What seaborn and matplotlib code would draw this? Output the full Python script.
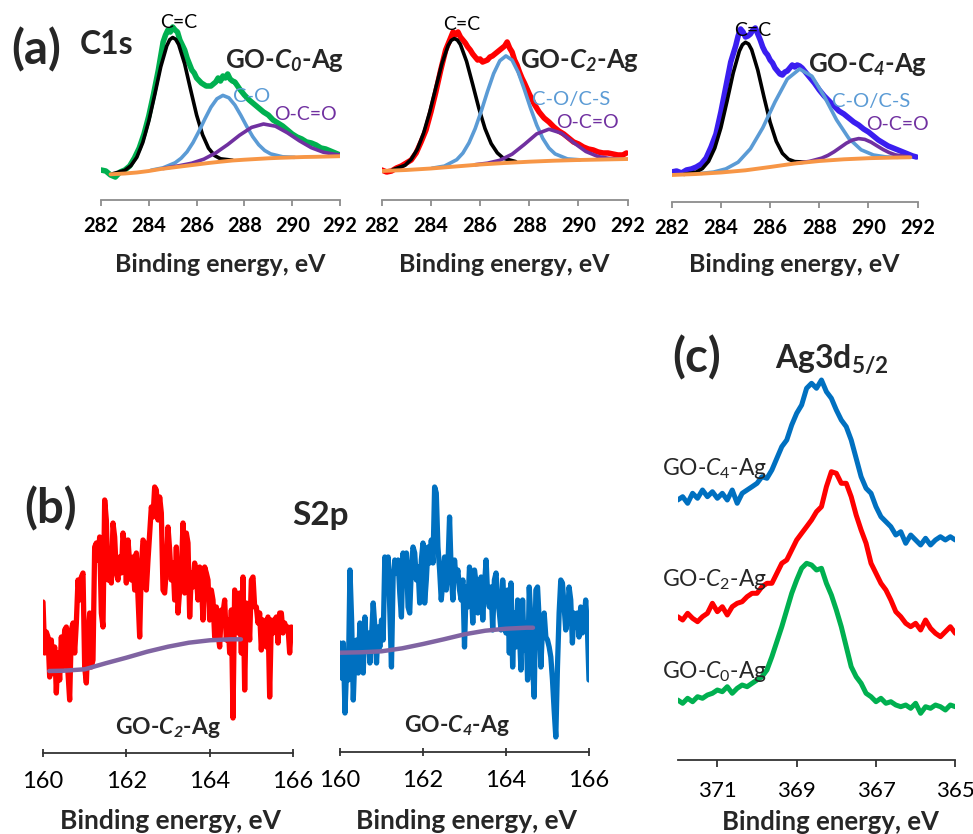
import numpy as np
import matplotlib
matplotlib.use("Agg")
import matplotlib.pyplot as plt
import seaborn as sns

# ---------------- DATA ----------------
# (a) C1s spectra and fitted components (intensity in arbitrary units)
c0_spec_x = [282.0, 282.2, 282.4, 282.6, 282.8, 283.0, 283.2, 283.4, 283.6, 283.8, 284.0, 284.2, 284.4, 284.6,
             284.7, 284.8, 284.9, 285.0, 285.1, 285.2, 285.3, 285.4, 285.5, 285.6, 285.7, 285.8, 285.9, 286.0,
             286.2, 286.4, 286.6, 286.8, 286.9, 287.0, 287.1, 287.2, 287.3, 287.4, 287.5, 287.6,
             287.8, 288.0, 288.2, 288.4, 288.6, 288.8, 289.0, 289.2, 289.4, 289.6, 289.8, 290.0, 290.2, 290.4,
             290.6, 290.8, 291.0, 291.2, 291.4, 291.6, 291.8, 292.0]
c0_spec_y = [30, 29, 25, 23, 28, 30, 34, 42, 52, 66, 84, 106, 130, 158,
             165, 170, 168, 173, 170, 168, 160, 155, 150, 142, 136, 130, 127, 122,
             117, 114, 114, 118, 122, 119, 124, 122, 126, 121, 119, 118,
             111, 105, 100, 96, 92, 88, 85, 80, 77, 74, 70, 66, 63, 61, 58, 57, 55, 52, 51, 49, 47, 45]
c0_cc_x = [282.5, 283.0, 283.25, 283.5, 283.75, 284.0, 284.25, 284.5, 284.75, 284.875, 285.0, 285.125, 285.25,
           285.5, 285.75, 286.0, 286.25, 286.5, 286.75, 287.0, 287.5]
c0_cc_y = [26.3, 29.7, 34.3, 42.8, 57.6, 79, 105.5, 133.2, 154, 160.3, 162.5, 160.7, 155.5,
           136.2, 110.3, 85, 65.2, 51.8, 44.5, 41.2, 39.8]
c0_co_x = [284.1, 284.6, 285.1, 285.35, 285.6, 285.85, 286.1, 286.35, 286.6, 286.85, 287.1, 287.35, 287.6, 287.85,
           288.1, 288.35, 288.6, 288.85, 289.1, 289.6, 290.1]
c0_co_y = [29.8, 32.2, 37.2, 41.7, 48.2, 57.4, 68.8, 81.2, 92.8, 101.2, 104.6, 102.2, 95, 84.7,
           73.5, 63.3, 55.2, 49.5, 46.1, 43.2, 42.7]
c0_occ_x = [284.6, 285.3, 285.8, 286.3, 286.8, 287.3, 287.8, 288.3, 288.8, 289.3, 289.8, 290.3, 290.8, 291.3, 291.8, 292.0]
c0_occ_y = [31.5, 34.4, 36.8, 40.8, 47.1, 55.4, 64.8, 72.6, 76, 73.8, 67.2, 59.2, 52.3, 47.8, 45.6, 45.2]
c0_bg_x = [282.4, 283.0, 283.5, 284.0, 284.5, 285.0, 285.5, 286.0, 286.5, 287.0, 287.5, 288.0, 288.5, 289.0,
           289.5, 290.0, 290.5, 291.0, 291.5, 292.0]
c0_bg_y = [25.7, 26.5, 27.5, 29, 31, 32.5, 34, 35.5, 37, 38.3, 39.5, 40.3, 41, 41.7, 42.2, 42.6, 43, 43.2, 43.5, 43.8]

c2_spec_x = [282.0, 282.2, 282.4, 282.6, 282.8, 283.0, 283.2, 283.4, 283.6, 283.8, 284.0, 284.2, 284.4, 284.6, 284.8,
             284.9, 285.0, 285.1, 285.2, 285.3, 285.4, 285.5, 285.6, 285.7, 285.8, 285.9, 286.0, 286.1, 286.2,
             286.3, 286.4, 286.5, 286.6, 286.7, 286.8, 286.9, 287.0, 287.1, 287.2, 287.3, 287.4, 287.5, 287.6,
             287.7, 287.8, 288.0, 288.2, 288.4, 288.6, 288.8, 289.0, 289.2, 289.4, 289.6, 289.8, 290.0, 290.2,
             290.4, 290.6, 290.8, 291.0, 291.2, 291.4, 291.6, 291.8, 291.95]
c2_spec_y = [30, 28, 29, 32, 34, 37, 40, 47, 58, 70, 88, 108, 130, 150, 162,
             168, 165, 168, 163, 160, 157, 153, 150, 146, 143, 140, 141, 138, 139,
             140, 143, 144, 146, 148, 150, 152, 154, 158, 152, 148, 140, 135, 128,
             122, 117, 106, 96, 88, 82, 78, 73, 69, 66, 62, 58, 56, 53,
             51, 50, 48, 47, 47, 46, 45, 45, 47]
c2_cc_x = [282.45, 282.95, 283.2, 283.45, 283.7, 283.95, 284.2, 284.45, 284.7, 284.825, 284.95, 285.075, 285.2,
           285.45, 285.7, 285.95, 286.2, 286.45, 286.7, 286.95, 287.45]
c2_cc_y = [30.3, 34.7, 40.7, 50.8, 66.6, 87.7, 112.4, 136.5, 154.5, 159.6, 161.4, 160.0, 155.5,
           138.6, 115.5, 91.7, 71.4, 56.4, 47.1, 41.7, 38.4]
c2_co_x = [284.05, 284.55, 285.05, 285.3, 285.55, 285.8, 286.05, 286.3, 286.55, 286.8, 287.05, 287.3, 287.55,
           287.8, 288.05, 288.3, 288.55, 288.8, 289.05, 289.55, 290.05]
c2_co_y = [31.8, 33.9, 40.3, 46.9, 57.2, 71.4, 89.1, 108.5, 126.4, 139.2, 144.1, 139.9, 127.7,
           110.5, 91.9, 75, 61.5, 51.9, 46.1, 41.1, 40.2]
c2_occ_x = [285.8, 286.3, 286.8, 287.3, 287.8, 288.3, 288.8, 289.3, 289.8, 290.3, 290.8, 291.3, 291.8]
c2_occ_y = [35.3, 36.8, 39.7, 45.8, 55.6, 66.1, 70.8, 66.9, 57.4, 48.5, 43.4, 41.4, 41.1]
c2_bg_x = [282.0, 283.0, 284.0, 285.0, 286.0, 287.0, 288.0, 289.0, 290.0, 291.0, 292.0]
c2_bg_y = [29, 30, 31.5, 33.5, 35.5, 37, 38.3, 39.3, 40, 40.5, 41]

c4_spec_x = [282.0, 282.2, 282.4, 282.6, 282.8, 283.0, 283.2, 283.4, 283.6, 283.8, 284.0, 284.2, 284.4, 284.6,
             284.7, 284.8, 284.9, 285.0, 285.1, 285.2, 285.3, 285.4, 285.5, 285.6, 285.7, 285.8, 285.9, 286.0,
             286.1, 286.2, 286.3, 286.4, 286.5, 286.6, 286.7, 286.8, 286.9, 287.0, 287.1, 287.2, 287.3, 287.4,
             287.5, 287.6, 287.8, 288.0, 288.2, 288.4, 288.6, 288.8, 289.0, 289.2, 289.4, 289.6, 289.8, 290.0,
             290.2, 290.4, 290.6, 290.8, 291.0, 291.2, 291.4, 291.6, 291.8, 291.95]
c4_spec_y = [30, 31, 29, 32, 33, 35, 38, 44, 55, 68, 90, 115, 140, 156,
             166, 173, 170, 165, 166, 168, 172, 174, 168, 162, 155, 150, 147, 142,
             139, 134, 131, 128, 127, 130, 131, 134, 137, 135, 137, 136, 134, 131,
             128, 125, 119, 112, 106, 101, 96, 91, 88, 84, 80, 77, 73, 70,
             66, 62, 59, 56, 54, 52, 50, 48, 46, 45]
c4_cc_x = [282.5, 283.0, 283.25, 283.5, 283.75, 284.0, 284.25, 284.5, 284.75, 284.875, 285.0, 285.125, 285.25,
           285.5, 285.75, 286.0, 286.25, 286.5, 286.75, 287.0, 287.5]
c4_cc_y = [27.6, 29.9, 33.5, 40.7, 53.9, 74.3, 100.9, 129, 150.9, 157.3, 159.7, 158, 152.3,
           131.8, 105.1, 79.8, 60.7, 48.7, 42.7, 40.4, 39.8]
c4_co_x = [283.2, 283.7, 284.2, 284.7, 285.2, 285.7, 286.2, 286.7, 287.2, 287.7, 288.2, 288.7, 289.2, 289.7,
           290.2, 290.7, 291.2]
c4_co_y = [28.6, 29.9, 33.1, 39.8, 53.2, 74.1, 100.1, 123, 133, 125.8, 105.7, 82.2, 63.6, 52.2, 47, 45.1, 44.7]
c4_occ_x = [287.1, 287.6, 288.1, 288.35, 288.6, 288.85, 289.1, 289.35, 289.6, 289.85, 290.1, 290.35, 290.6,
            290.85, 291.1, 291.6]
c4_occ_y = [38.9, 40.6, 43.9, 46.6, 50.2, 54.5, 58.8, 62.0, 63.4, 62.6, 59.9, 56.1, 52.4, 49.3, 47.1, 45.3]
c4_bg_x = [282.0, 283.0, 284.0, 285.0, 286.0, 287.0, 288.0, 289.0, 290.0, 291.0, 291.7]
c4_bg_y = [27, 28, 29.5, 31.7, 35, 38.5, 41, 42.7, 43.8, 44.4, 44.7]

c1s_ticks = [282, 284, 286, 288, 290, 292]

# (b) S2p spectra, 160-166 eV, 0.04 eV steps
s2p_energy = np.linspace(160.0, 166.0, 151)
s2p_c2 = [151, 100, 121, 116, 76, 113, 80, 106, 60, 100,
          73, 116, 86, 123, 126, 80, 53, 123, 130, 100,
          130, 173, 153, 176, 180, 86, 70, 116, 140, 86,
          93, 206, 210, 193, 216, 140, 126, 253, 233, 173,
          190, 170, 230, 216, 180, 173, 196, 180, 220, 206,
          170, 213, 190, 173, 196, 163, 200, 156, 116, 186,
          213, 210, 163, 193, 220, 246, 236, 266, 263, 233,
          256, 240, 163, 160, 183, 226, 203, 173, 190, 153,
          206, 140, 163, 180, 230, 160, 220, 210, 136, 180,
          166, 190, 176, 153, 186, 173, 133, 186, 180, 173,
          133, 163, 153, 116, 146, 120, 106, 143, 140, 153,
          113, 133, 100, 143, 35, 163, 133, 120, 160, 100,
          176, 63, 150, 140, 113, 173, 176, 146, 146, 130,
          140, 103, 133, 123, 106, 136, 56, 133, 120, 133,
          136, 110, 140, 140, 120, 130, 123, 126, 100, 126,
          125]
s2p_c4 = [109, 74, 109, 39, 85, 72, 182, 132, 52, 99,
          112, 79, 129, 99, 79, 135, 102, 119, 89, 115,
          149, 125, 89, 125, 105, 132, 112, 195, 172, 195,
          142, 85, 175, 192, 179, 192, 159, 135, 199, 172,
          199, 145, 139, 185, 205, 199, 172, 185, 149, 192,
          209, 149, 172, 205, 189, 212, 189, 265, 259, 205,
          182, 152, 172, 195, 162, 185, 235, 179, 152, 192,
          172, 182, 162, 152, 172, 105, 165, 145, 185, 165,
          129, 182, 169, 139, 155, 175, 132, 165, 192, 155,
          145, 165, 122, 172, 179, 152, 139, 122, 172, 145,
          119, 162, 99, 169, 85, 139, 105, 152, 122, 82,
          152, 102, 129, 72, 165, 132, 85, 55, 162, 165,
          132, 85, 125, 139, 115, 112, 105, 95, 72, 42,
          15, 85, 139, 172, 169, 145, 122, 132, 165, 152,
          109, 139, 125, 139, 115, 145, 119, 129, 152, 125,
          72]
s2p_c2_bg_x = [160.15, 160.5, 161.0, 161.5, 162.0, 162.5, 163.0, 163.5, 164.0, 164.5, 164.75]
s2p_c2_bg_y = [82, 82.3, 83.7, 89.7, 95.3, 101.3, 106.3, 110.3, 112.7, 113.7, 113.7]
s2p_c4_bg_x = [160.0, 160.5, 161.0, 161.5, 162.0, 162.5, 163.0, 163.5, 164.0, 164.5, 164.65]
s2p_c4_bg_y = [99.3, 99.7, 100.7, 103.7, 108, 112.7, 117.7, 121.3, 123.3, 124.3, 124.3]
s2p_ticks = [160, 162, 164, 166]

# (c) Ag3d5/2 spectra, 372 -> 365 eV, 0.125 eV steps (vertically offset)
ag_energy = np.linspace(372.0, 365.0, 57)
ag_c4 = [260, 263.3, 256.7, 266.7, 261.7, 270, 263.3, 268.3, 261.7, 266.7,
         260, 270, 256.7, 266.7, 270, 273.3, 276.7, 283.3, 281.7, 290,
         301.7, 313.3, 320, 335, 346.7, 355, 371.7, 376.7, 371.7, 380,
         368.3, 361.7, 350, 340, 333.3, 320, 301.7, 283.3, 271.7, 266.7,
         253.3, 243.3, 238.3, 233.3, 225, 228.3, 216.7, 225, 220, 215,
         221.7, 215, 220, 223.3, 220, 223.3, 220]
ag_c2 = [143.3, 140, 146.7, 141.7, 138.3, 143.3, 146.7, 156.7, 148.3, 153.3,
         145, 153.3, 156.7, 158.3, 163.3, 166.7, 166.7, 173.3, 176.7, 176.7,
         186.7, 196.7, 200, 210, 220, 226.7, 233.3, 240, 248.3, 253.3,
         273.3, 288.3, 286.7, 276.7, 276.7, 263.3, 245, 230, 216.7, 196.7,
         186.7, 176.7, 170, 160, 148.3, 143.3, 136.7, 133.3, 136.7, 130,
         140, 131.7, 126.7, 123.3, 128.3, 133.3, 126.7]
ag_c0 = [60, 56.7, 61.7, 58.3, 63.3, 61.7, 65, 66.7, 70, 68.3,
         73.3, 66.7, 71.7, 75, 73.3, 76.7, 80, 83.3, 90, 103.3,
         118.3, 133.3, 150, 166.7, 180, 191.7, 196.7, 195, 190, 191.7,
         176.7, 165, 150, 133.3, 113.3, 93.3, 83.3, 76.7, 66.7, 63.3,
         58.3, 61.7, 56.7, 58.3, 55, 53.3, 55, 51.7, 56.7, 46.7,
         53.3, 51.7, 55, 53.3, 50, 55, 53.3]
ag_ticks = [371, 369, 367, 365]

# ---------------- STYLE ----------------
sns.set_theme(style="white")
plt.rcParams['font.family'] = ['Lato', 'DejaVu Sans']
plt.rcParams['mathtext.fontset'] = 'custom'
plt.rcParams['mathtext.rm'] = 'Lato'
plt.rcParams['mathtext.it'] = 'Lato:italic'
plt.rcParams['mathtext.bf'] = 'Lato:bold'
plt.rcParams['mathtext.bfit'] = 'Lato:italic:bold'

GREEN, RED, VIOLET, BLUE = '#00B050', '#FF0000', '#3A1EF0', '#0070C0'
LBLUE, PURPLE, ORANGE, BGPURPLE = '#5B9BD5', '#7030A0', '#F79646', '#8064A2'

W, H = 973, 834
fig = plt.figure(figsize=(W / 100, H / 100), dpi=100)


def rect(l, t, r, b):
    return [l / W, 1 - b / H, (r - l) / W, (b - t) / H]


def ftext(x, y, s, **kw):
    ha = kw.pop('ha', 'center')
    va = kw.pop('va', 'center')
    fig.text(x / W, 1 - y / H, s, ha=ha, va=va, **kw)


def line(ax, x, y, color, lw, z=2):
    sns.lineplot(x=list(x), y=list(y), ax=ax, color=color, linewidth=lw,
                 estimator=None, sort=False, zorder=z)


def style(ax, xlim, ylim, ticks, col, lw, tdir, tlen, lsize, lweight, pad):
    ax.set_xlim(*xlim)
    ax.set_ylim(*ylim)
    for s in ['left', 'right', 'top']:
        ax.spines[s].set_visible(False)
    ax.spines['bottom'].set_color(col)
    ax.spines['bottom'].set_linewidth(lw)
    ax.set_xticks(ticks)
    ax.set_xticklabels([str(t) for t in ticks], fontsize=lsize, fontweight=lweight)
    ax.tick_params(axis='x', bottom=True, direction=tdir, length=tlen, width=lw,
                   color=col, pad=pad, labelcolor='black')
    ax.set_yticks([])
    ax.set_xlabel('')
    ax.set_ylabel('')
    ax.patch.set_alpha(0)


# ---------------- PANEL (a) ----------------
a_sets = [
    (rect(101, 20, 340, 200), c0_spec_x, c0_spec_y, GREEN, c0_cc_x, c0_cc_y, c0_co_x, c0_co_y,
     c0_occ_x, c0_occ_y, c0_bg_x, c0_bg_y),
    (rect(381.7, 20, 627.7, 200), c2_spec_x, c2_spec_y, RED, c2_cc_x, c2_cc_y, c2_co_x, c2_co_y,
     c2_occ_x, c2_occ_y, c2_bg_x, c2_bg_y),
    (rect(671.7, 22, 917.7, 202), c4_spec_x, c4_spec_y, VIOLET, c4_cc_x, c4_cc_y, c4_co_x, c4_co_y,
     c4_occ_x, c4_occ_y, c4_bg_x, c4_bg_y),
]
for (r, sx, sy, sc, kx, ky, ox, oy, px, py, bx, by) in a_sets:
    ax = fig.add_axes(r)
    line(ax, sx, sy, sc, 4.0, 2)
    line(ax, kx, ky, 'black', 2.6, 3)
    line(ax, ox, oy, LBLUE, 2.6, 3)
    line(ax, px, py, PURPLE, 2.6, 3)
    line(ax, bx, by, ORANGE, 2.8, 4)
    style(ax, (282, 292), (0, 180), c1s_ticks, '#8C8C8C', 1.3, 'out', 4.5, 14.5, 'bold', 7)

ftext(36, 50, "(a)", fontsize=34, fontweight='bold')
ftext(107, 44, "C1s", fontsize=23, fontweight='bold')
for cx, cy in [(179, 22), (462, 24), (753, 31)]:
    ftext(cx, cy, "C=C", fontsize=14, color='black')
ftext(285, 60, r"GO-$\mathbfit{C}_{\mathbfit{0}}$-Ag", fontsize=18.5, fontweight='bold')
ftext(580, 60, r"GO-$\mathbfit{C}_{\mathbfit{2}}$-Ag", fontsize=18.5, fontweight='bold')
ftext(868, 64, r"GO-$\mathbfit{C}_{\mathbfit{4}}$-Ag", fontsize=18.5, fontweight='bold')
ftext(252, 97, "C-O", fontsize=14.5, color=LBLUE)
ftext(571, 100, "C-O/C-S", fontsize=14.5, color=LBLUE)
ftext(871, 102, "C-O/C-S", fontsize=14.5, color=LBLUE)
ftext(305, 115, "O-C=O", fontsize=14, color=PURPLE)
ftext(587, 122, "O-C=O", fontsize=14, color=PURPLE)
ftext(897, 125, "O-C=O", fontsize=14, color=PURPLE)
for cx in [220.5, 504.7, 794.7]:
    ftext(cx, 264, "Binding energy, eV", fontsize=18, fontweight='bold')

# ---------------- PANEL (b) ----------------
b_sets = [
    (rect(43, 473, 293, 753), s2p_c2, RED, s2p_c2_bg_x, s2p_c2_bg_y),
    (rect(340, 472, 589, 752), s2p_c4, BLUE, s2p_c4_bg_x, s2p_c4_bg_y),
]
for (r, sy, sc, bx, by) in b_sets:
    ax = fig.add_axes(r)
    line(ax, s2p_energy, sy, sc, 3.8, 2)
    line(ax, bx, by, BGPURPLE, 3.2, 3)
    style(ax, (160, 166), (0, 280), s2p_ticks, '#333333', 1.3, 'inout', 6, 17, 'normal', 10)

ftext(51, 509, "(b)", fontsize=34, fontweight='bold')
ftext(320, 516, "S2p", fontsize=24, fontweight='bold')
ftext(168, 728, r"GO-$\mathbfit{C}_{\mathbfit{2}}$-Ag", fontsize=16.5, fontweight='bold')
ftext(457, 726, r"GO-$\mathbfit{C}_{\mathbfit{4}}$-Ag", fontsize=16.5, fontweight='bold')
ftext(170, 821, "Binding energy, eV", fontsize=19, fontweight='bold')
ftext(466, 821, "Binding energy, eV", fontsize=19, fontweight='bold')

# ---------------- PANEL (c) ----------------
ax = fig.add_axes(rect(677.7, 360, 955.3, 760))
line(ax, ag_energy, ag_c0, GREEN, 3.6, 2)
line(ax, ag_energy, ag_c2, RED, 3.6, 2)
line(ax, ag_energy, ag_c4, BLUE, 3.6, 2)
style(ax, (372, 365), (0, 400), ag_ticks, '#333333', 1.3, 'out', 5, 16, 'normal', 10)

ftext(697, 358, "(c)", fontsize=34, fontweight='bold')
ftext(832, 359, r"Ag3d$_{\mathbf{5/2}}$", fontsize=23, fontweight='bold')
ftext(662, 469, r"GO-$\mathit{C}_{\mathit{4}}$-Ag", fontsize=16.5, ha='left')
ftext(662, 579, r"GO-$\mathit{C}_{\mathit{2}}$-Ag", fontsize=16.5, ha='left')
ftext(662, 672, r"GO-$\mathit{C}_{\mathit{0}}$-Ag", fontsize=16.5, ha='left')
ftext(830, 822, "Binding energy, eV", fontsize=18.5, fontweight='bold')

fig.savefig("out.png", dpi=100, facecolor='white')
